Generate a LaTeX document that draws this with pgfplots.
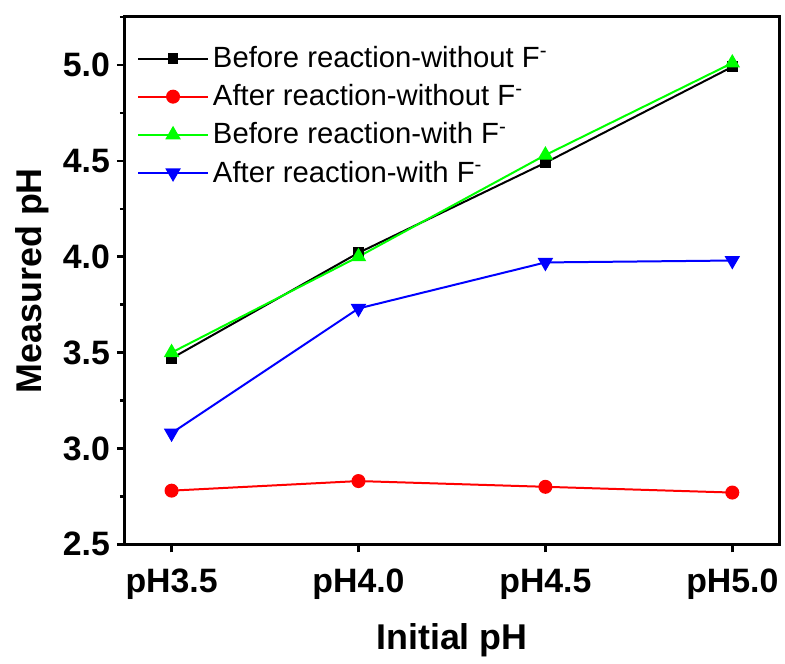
\documentclass[border=0pt]{standalone}
\usepackage{pgfplots}
\pgfplotsset{compat=1.18}
\usepackage{fontspec}
\setmainfont{Liberation Sans}
\definecolor{lgreen}{RGB}{0,255,0}
\begin{document}
\begin{tikzpicture}
\begin{axis}[
  scale only axis,
  width=327.5bp, height=264bp,
  xmin=-0.25, xmax=3.25,
  ymin=2.5, ymax=5.25,
  xtick={0,1,2,3},
  xticklabels={pH3.5,pH4.0,pH4.5,pH5.0},
  ytick={2.5,3.0,...,5.0},
  minor ytick={2.75,3.25,...,5.0},
  tick pos=left,
  tick align=outside,
  major tick length=4bp,
  minor tick length=2.5bp,
  every tick/.style={black, line width=1.2bp},
  axis line style={line width=1.5bp},
  ticklabel style={font=\fontsize{17}{19}\selectfont\bfseries},
  xticklabel style={yshift=-5bp},
  yticklabel style={/pgf/number format/fixed, /pgf/number format/fixed zerofill,
    /pgf/number format/precision=1, /pgf/number format/assume math mode=true},
  xlabel={Initial pH},
  ylabel={Measured pH},
  xlabel style={yshift=-5bp},
  label style={font=\fontsize{18}{20}\selectfont\bfseries},
  legend style={at={(0.009,0.96)}, anchor=north west, draw=none, fill=none,
    font=\fontsize{14.7}{17}\selectfont, row sep=3bp},
  legend cell align=left,
  legend image code/.code={\draw[mark repeat=2,mark phase=2,#1]
    plot coordinates {(0bp,0bp) (17.5bp,0bp) (35bp,0bp)};},
]
% Before reaction, without F-
\addplot[black, line width=1bp, mark=square*, mark size=2.2bp] coordinates {
  (0,3.47) (1,4.02) (2,4.49) (3,4.99)
};
% After reaction, without F-
\addplot[red, line width=1bp, mark=*, mark size=3bp] coordinates {
  (0,2.78) (1,2.83) (2,2.80) (3,2.77)
};
% Before reaction, with F-
\addplot[lgreen, line width=1bp, mark=triangle*, mark size=3.5bp] coordinates {
  (0,3.50) (1,4.00) (2,4.53) (3,5.01)
};
% After reaction, with F-
\addplot[blue, line width=1bp, mark=triangle*, mark size=3.5bp,
  mark options={rotate=180}] coordinates {
  (0,3.08) (1,3.73) (2,3.97) (3,3.98)
};
\legend{Before reaction-without F\textsuperscript{-},
  After reaction-without F\textsuperscript{-},
  Before reaction-with F\textsuperscript{-},
  After reaction-with F\textsuperscript{-}}
\end{axis}
% margins as in the reference
\path ([yshift=8.5bp]current axis.north west) ([xshift=-62.5bp]current axis.south west)
  ([xshift=2.5bp]current axis.east);
\end{tikzpicture}
\end{document}
